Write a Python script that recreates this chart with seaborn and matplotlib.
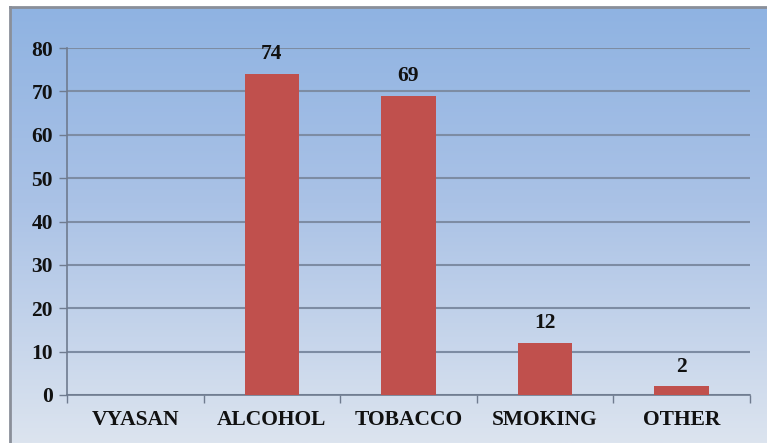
import numpy as np
import pandas as pd
import matplotlib
matplotlib.use("Agg")
import matplotlib.pyplot as plt
import seaborn as sns
from matplotlib.colors import LinearSegmentedColormap

categories = ["VYASAN", "ALCOHOL", "TOBACCO", "SMOKING", "OTHER"]
values = [np.nan, 74, 69, 12, 2]
yticks = [0, 10, 20, 30, 40, 50, 60, 70, 80]

df = pd.DataFrame({"cat": categories, "val": values})

sns.set_theme(style="white")
plt.rcParams["font.family"] = ["Liberation Serif", "DejaVu Serif"]
plt.rcParams["font.weight"] = "bold"

W, H = 767, 443
fig = plt.figure(figsize=(W / 100, H / 100), dpi=100)
fig.patch.set_facecolor("white")

# background panel with vertical gradient
bg = fig.add_axes([10 / W, 0, 1 - 10 / W, 1 - 7 / H])
grad = np.linspace(0, 1, 256).reshape(-1, 1)
cmap = LinearSegmentedColormap.from_list(
    "g", [(0.0, "#8FB3E2"), (0.45, "#AAC2E6"), (1.0, "#DCE4EF")])
bg.imshow(grad, aspect="auto", cmap=cmap, extent=[0, 1, 0, 1], origin="upper")
bg.set_xlim(0, 1)
bg.set_ylim(0, 1)
bg.set_xticks([])
bg.set_yticks([])
for s in ["right", "bottom"]:
    bg.spines[s].set_visible(False)
for s in ["left", "top"]:
    bg.spines[s].set_color("#8A8F99")
    bg.spines[s].set_linewidth(2)

ax = fig.add_axes([67 / W, 1 - 395 / H, (750 - 67) / W, (395 - 48) / H])
ax.patch.set_alpha(0)

sns.barplot(data=df, x="cat", y="val", order=categories, color="#C0504D",
            width=0.4, saturation=1, errorbar=None, ax=ax, zorder=3,
            linewidth=0, edgecolor="none")

ax.set_ylim(0, 80)
ax.set_xlim(-0.5, 4.5)
ax.set_yticks(yticks)
ax.set_yticklabels([str(t) for t in yticks], fontsize=15.5, fontweight="bold", color="#111111")
ax.set_xticks(range(len(categories)))
ax.set_xticklabels(categories, fontsize=15.5, fontweight="bold", color="#111111")
ax.set_xticks(np.arange(-0.5, len(categories), 1.0), minor=True)
ax.tick_params(axis="x", which="major", length=0, pad=11)
ax.tick_params(axis="x", which="minor", length=6, width=1, color="#6F7B8F", direction="out", bottom=True)
ax.tick_params(axis="y", length=6, width=1, color="#6F7B8F", direction="out", left=True, pad=4)
ax.set_xlabel("")
ax.set_ylabel("")

ax.yaxis.grid(True, color="#7D8CA3", linewidth=1.5, zorder=0)
ax.set_axisbelow(True)
for s in ["top", "right"]:
    ax.spines[s].set_visible(False)
for s in ["left", "bottom"]:
    ax.spines[s].set_color("#6F7B8F")
    ax.spines[s].set_linewidth(1.2)

for i, v in enumerate(values):
    if not np.isnan(v):
        ax.annotate(f"{int(v)}", (i, v), xytext=(0, 7), textcoords="offset points",
                    ha="center", va="bottom", fontsize=15.5, fontweight="bold", color="#111111")

fig.savefig("out.png", dpi=100)
